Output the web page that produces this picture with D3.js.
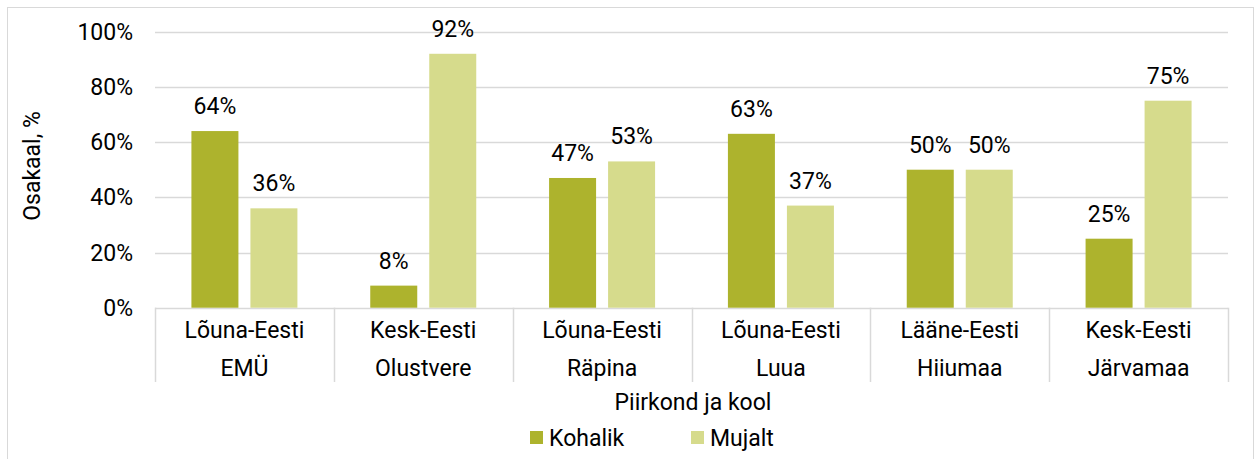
<!DOCTYPE html>
<html>
<head>
<meta charset="utf-8">
<script src="https://cdn.jsdelivr.net/npm/d3@7"></script>
<style>
  body { margin: 0; background: #fff; }
  text { font-family: Roboto, "Noto Sans", sans-serif; fill: #000; }
</style>
</head>
<body>
<div id="chart"></div>
<script>
var width = 1256;
var height = 459;

// data
var regions = ["Lõuna-Eesti", "Kesk-Eesti", "Lõuna-Eesti", "Lõuna-Eesti", "Lääne-Eesti", "Kesk-Eesti"];
var schools = ["EMÜ", "Olustvere", "Räpina", "Luua", "Hiiumaa", "Järvamaa"];
var seriesNames = ["Kohalik", "Mujalt"];
var kohalik = [64, 8, 47, 63, 50, 25];
var mujalt = [36, 92, 53, 37, 50, 75];
var yTicks = [0, 20, 40, 60, 80, 100];

var colors = ["#adb32d", "#d6db8c"];
var gridColor = "#d9d9d9";
var fontSize = "23px";

var plotLeft = 155, plotRight = 1228;
var plotTop = 31.7, plotBottom = 307.7;

var svg = d3.select("#chart").append("svg")
    .attr("width", width)
    .attr("height", height);

// outer chart frame
svg.append("rect")
    .attr("x", 7.5).attr("y", 7.5)
    .attr("width", 1246).attr("height", 470)
    .attr("fill", "none")
    .attr("stroke", gridColor);

var x = d3.scaleBand()
    .domain(d3.range(regions.length))
    .range([plotLeft, plotRight]);

var y = d3.scaleLinear()
    .domain([0, 100])
    .range([plotBottom, plotTop]);

var barWidth = 47;
var barGap = 12;

// gridlines
svg.append("g").selectAll("line")
    .data(yTicks)
    .enter().append("line")
    .attr("x1", plotLeft).attr("x2", plotRight)
    .attr("y1", function (d) { return Math.round(y(d)) + 0.5; })
    .attr("y2", function (d) { return Math.round(y(d)) + 0.5; })
    .attr("stroke", gridColor)
    .attr("stroke-width", 1.5);

// y tick labels
svg.append("g").selectAll("text")
    .data(yTicks)
    .enter().append("text")
    .attr("x", 133)
    .attr("y", function (d) { return y(d); })
    .attr("dy", "0.35em")
    .attr("text-anchor", "end")
    .attr("font-size", fontSize)
    .text(function (d) { return d + "%"; });

// category separators below the axis
svg.append("g").selectAll("line")
    .data(d3.range(regions.length + 1))
    .enter().append("line")
    .attr("x1", function (d) { return Math.round(plotLeft + d * x.bandwidth()) + 0.5; })
    .attr("x2", function (d) { return Math.round(plotLeft + d * x.bandwidth()) + 0.5; })
    .attr("y1", plotBottom)
    .attr("y2", 382)
    .attr("stroke", gridColor)
    .attr("stroke-width", 1.5);

// bars
var series = [kohalik, mujalt];
series.forEach(function (values, s) {
    var g = svg.append("g");
    g.selectAll("rect")
        .data(values)
        .enter().append("rect")
        .attr("x", function (d, i) {
            var c = x(i) + x.bandwidth() / 2;
            return s === 0 ? c - barGap / 2 - barWidth : c + barGap / 2;
        })
        .attr("y", function (d) { return y(d); })
        .attr("width", barWidth)
        .attr("height", function (d) { return y(0) - y(d); })
        .attr("fill", colors[s]);

    g.selectAll("text")
        .data(values)
        .enter().append("text")
        .attr("x", function (d, i) {
            var c = x(i) + x.bandwidth() / 2;
            return s === 0 ? c - barGap / 2 - barWidth / 2 : c + barGap / 2 + barWidth / 2;
        })
        .attr("y", function (d) { return y(d) - 17; })
        .attr("text-anchor", "middle")
        .attr("font-size", fontSize)
        .text(function (d) { return d + "%"; });
});

// category labels
var catLabels = svg.append("g");
catLabels.selectAll("text.region")
    .data(regions)
    .enter().append("text")
    .attr("class", "region")
    .attr("x", function (d, i) { return x(i) + x.bandwidth() / 2; })
    .attr("y", 338)
    .attr("text-anchor", "middle")
    .attr("font-size", fontSize)
    .text(function (d) { return d; });
catLabels.selectAll("text.school")
    .data(schools)
    .enter().append("text")
    .attr("class", "school")
    .attr("x", function (d, i) { return x(i) + x.bandwidth() / 2; })
    .attr("y", 376)
    .attr("text-anchor", "middle")
    .attr("font-size", fontSize)
    .text(function (d) { return d; });

// axis titles
svg.append("text")
    .attr("x", 693)
    .attr("y", 410)
    .attr("text-anchor", "middle")
    .attr("font-size", fontSize)
    .text("Piirkond ja kool");

svg.append("text")
    .attr("transform", "translate(40,166) rotate(-90)")
    .attr("text-anchor", "middle")
    .attr("font-size", fontSize)
    .text("Osakaal, %");

// legend
var legendX = [530, 691];
var legend = svg.append("g").selectAll("g")
    .data(seriesNames)
    .enter().append("g")
    .attr("transform", function (d, i) { return "translate(" + legendX[i] + ",431)"; });
legend.append("rect")
    .attr("width", 13).attr("height", 13)
    .attr("fill", function (d, i) { return colors[i]; });
legend.append("text")
    .attr("x", 19)
    .attr("y", 15)
    .attr("font-size", fontSize)
    .text(function (d) { return d; });
</script>
</body>
</html>
